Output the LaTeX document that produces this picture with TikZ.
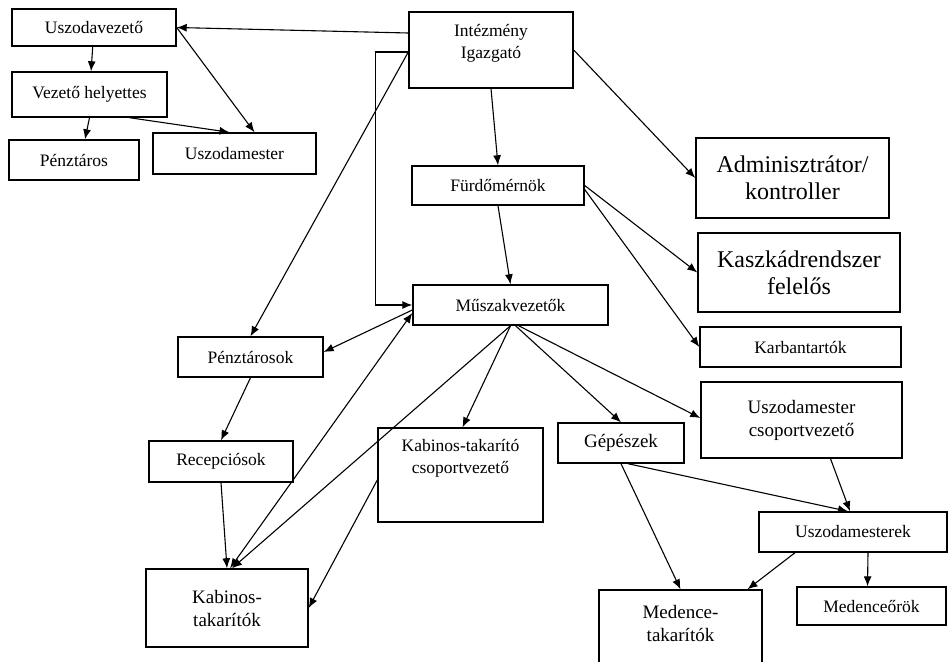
\documentclass[tikz,border=0pt]{standalone}
\usepackage{fontspec}
\setmainfont{Liberation Serif}
\usepackage{tikz}
\usetikzlibrary{arrows.meta}
\newcommand\toptext[1]{\begin{tabular}[t]{@{}c@{}}#1\end{tabular}}

\begin{document}
\begin{tikzpicture}[x=1pt,y=-1pt,>={Latex[length=10pt,width=8pt]},
  box/.style={draw,line width=1.4pt,align=center,inner sep=2pt,font=\fontsize{17.5}{22}\selectfont},
  midbox/.style={box,font=\fontsize{19}{23}\selectfont},
  bigbox/.style={box,font=\fontsize{24}{27}\selectfont},
  arr/.style={line width=1.1pt,->},
  darr/.style={line width=1.1pt,<->}]
\useasboundingbox (0,0) rectangle (950,661);
% Pool manager branch
\node[box,minimum width=164pt,minimum height=37pt] (uvez) at (94,27.5) {Uszodavezető};
\node[box,minimum width=155pt,minimum height=45pt] (vhely) at (89.5,94.5) {Vezető helyettes};
\node[box,minimum width=130pt,minimum height=40pt] (penz) at (74,160) {Pénztáros};
\node[box,minimum width=163pt,minimum height=41pt] (umest) at (234.5,153.5) {Uszodamester};

% Director and engineer
\node[box,minimum width=164pt,text height=23pt,text depth=49pt] (igaz) at (491,50) {\toptext{Intézmény\\Igazgató}};
\node[box,minimum width=172pt,minimum height=39pt] (furd) at (498,185.5) {Fürdőmérnök};
\node[bigbox,minimum width=193pt,minimum height=80pt] (admin) at (792.5,178) {Adminisztrátor/\\kontroller};
\node[bigbox,minimum width=202pt,minimum height=79pt] (kaszk) at (799,272.5) {Kaszkádrendszer\\felelős};
\node[box,minimum width=201pt,minimum height=40pt] (karb) at (800.5,347) {Karbantartók};
\node[box,minimum width=195pt,minimum height=40pt] (musz) at (510.5,305) {Műszakvezetők};

% Shift staff
\node[box,minimum width=145pt,minimum height=40pt] (penzk) at (250.5,357) {Pénztárosok};
\node[box,minimum width=144pt,minimum height=41pt] (recep) at (221,461.5) {Recepciósok};
\node[midbox,minimum width=162pt,minimum height=78pt] (kabtak) at (227,608) {Kabinos-\\takarítók};
\node[box,minimum width=165pt,text height=21pt,text depth=69pt] (kabcsop) at (460.5,475) {\toptext{Kabinos-takarító\\csoportvezető}};
\node[midbox,minimum width=126pt,minimum height=40pt] (gep) at (621,443) {Gépészek};
\node[midbox,minimum width=201pt,minimum height=76pt] (ucsop) at (801.5,420) {Uszodamester\\csoportvezető};
\node[box,minimum width=188pt,minimum height=40pt] (umesterek) at (853,532) {Uszodamesterek};
\node[box,minimum width=149pt,minimum height=38pt] (medor) at (871.5,606) {Medenceőrök};
\node[midbox,minimum width=163pt,text height=26pt,text depth=60pt] (medtak) at (680.5,635) {\toptext{Medence-\\takarítók}};

% Connectors
\draw[arr] ([yshift=17pt]igaz.west) -- (uvez.east);
\draw[arr] (uvez) -- (vhely);
\draw[arr] (vhely.south) -- ([xshift=11pt]penz.north);
\draw[arr] ([xshift=40pt]vhely.south) -- ([xshift=-5pt]umest.north);
\draw[arr] (uvez.east) -- ([xshift=20pt]umest.north);
\draw[arr] ([yshift=-2pt]igaz.west) -- (penzk.north);
\draw[arr] ([yshift=-2pt]igaz.west) -- ++(-33,0) |- (musz.west);
\draw[arr] (igaz.south) -- (furd.north);
\draw[arr] (igaz.east) -- (admin.west);
\draw[arr] (furd.east) -- (kaszk.west);
\draw[arr] ([yshift=-4pt]furd.east) -- (karb.west);
\draw[arr] (furd.south) -- (musz.north);

\draw[arr] ([yshift=-5pt]musz.west) -- ([yshift=5pt]penzk.east);
\draw[darr] ([yshift=-8pt]musz.west) -- ([xshift=3pt]kabtak.north);
\draw[arr] (musz.south) -- ([xshift=5pt]kabtak.north);
\draw[arr] (musz.south) -- ([xshift=2pt]kabcsop.north);
\draw[arr] ([xshift=5pt]musz.south) -- (gep.north);
\draw[arr] ([xshift=8pt]musz.south) -- ([yshift=2pt]ucsop.west);
\draw[arr] (penzk.south) -- (recep.north);
\draw[arr] (recep.south) -- (kabtak.north);
\draw[arr] ([yshift=-5pt]kabcsop.west) -- (kabtak.east);

\draw[arr] (gep.south) -- (medtak.north);
\draw[arr] ([xshift=7pt]gep.south) -- ([xshift=-5pt]umesterek.north);
\draw[arr] ([xshift=29pt]ucsop.south) -- ([xshift=-3pt]umesterek.north);
\draw[arr] ([xshift=-58pt]umesterek.south) -- ([xshift=67pt]medtak.north);
\draw[arr] ([xshift=15pt]umesterek.south) -- ([xshift=-4pt]medor.north);
\end{tikzpicture}
\end{document}
